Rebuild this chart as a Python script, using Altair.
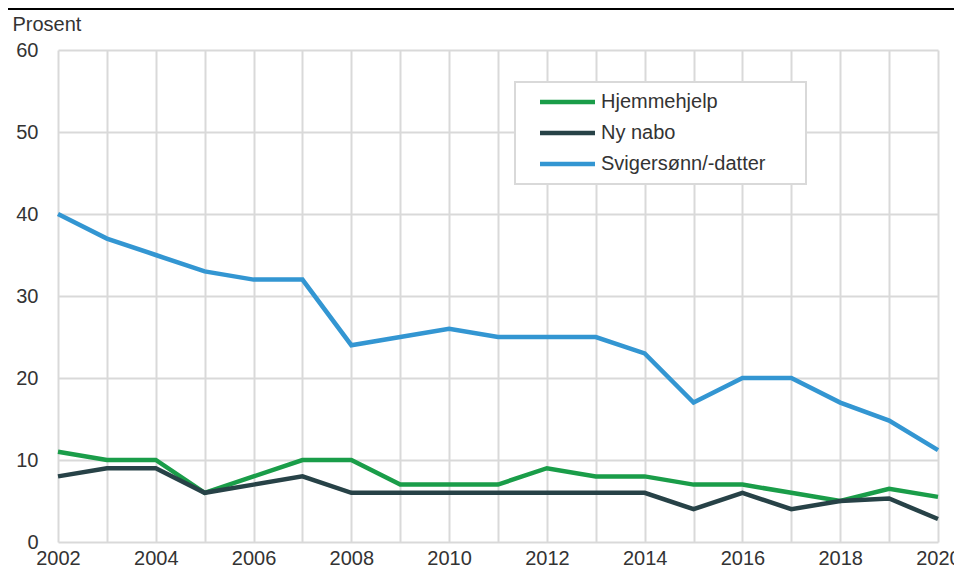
import altair as alt
import pandas as pd

years = list(range(2002, 2021))
series_names = ["Hjemmehjelp", "Ny nabo", "Svigersønn/-datter"]
hjemmehjelp = [11, 10, 10, 6, 8, 10, 10, 7, 7, 7, 9, 8, 8, 7, 7, 6, 5, 6.5, 5.5]
ny_nabo = [8, 9, 9, 6, 7, 8, 6, 6, 6, 6, 6, 6, 6, 4, 6, 4, 5, 5.3, 2.8]
svigerbarn = [40, 37, 35, 33, 32, 32, 24, 25, 26, 25, 25, 25, 23, 17, 20, 20, 17, 14.8, 11.2]
colors = ["#1a9d49", "#274247", "#3396d2"]
y_ticks = [0, 10, 20, 30, 40, 50, 60]

rows = []
for name, vals in zip(series_names, [hjemmehjelp, ny_nabo, svigerbarn]):
    for yr, v in zip(years, vals):
        rows.append({"År": yr, "Prosent": v, "Serie": name})
df = pd.DataFrame(rows)

FONT = "Liberation Sans"
TXT = "#333333"
GRID = "#d9d9d9"

lines = alt.Chart(df).mark_line(strokeWidth=4.5, strokeJoin="miter").encode(
    x=alt.X("År:Q",
            scale=alt.Scale(domain=[2002, 2020], nice=False, zero=False),
            axis=alt.Axis(values=years, format="d", title=None,
                          labelExpr="datum.value % 2 == 0 ? datum.label : ''",
                          labelFontSize=20, labelColor=TXT, labelFont=FONT,
                          labelPadding=6, ticks=False, domain=False,
                          grid=True, gridColor=GRID, gridWidth=2,
                          labelFlush=False, labelOverlap=False)),
    y=alt.Y("Prosent:Q",
            scale=alt.Scale(domain=[0, 60], nice=False),
            axis=alt.Axis(values=y_ticks, title="Prosent", titleAngle=0,
                          titleX=-46, titleY=-20, titleAlign="left",
                          titleBaseline="alphabetic", titleFontSize=20,
                          titleFontWeight="normal", titleColor=TXT, titleFont=FONT,
                          labelFontSize=20, labelColor=TXT, labelFont=FONT,
                          labelPadding=20, ticks=False, domain=False,
                          grid=True, gridColor=GRID, gridWidth=2)),
    color=alt.Color("Serie:N",
                    scale=alt.Scale(domain=series_names, range=colors),
                    sort=series_names,
                    legend=alt.Legend(title=None, orient="none",
                                      legendX=457, legendY=32,
                                      symbolType="M1,0H12", symbolSize=100,
                                      symbolStrokeWidth=4.5,
                                      labelFontSize=20, labelFont=FONT,
                                      labelColor=TXT, labelOffset=56,
                                      labelLimit=400,
                                      labelExpr="datum.label + '\u2800\u2800'",
                                      padding=10, rowPadding=11,
                                      strokeColor=GRID, fillColor="white")),
)

top_line = alt.Chart(pd.DataFrame({"a": [0]})).mark_rule(
    color="black", strokeWidth=2).encode(
    x=alt.value(-50), x2=alt.value(896), y=alt.value(-41))

chart = alt.layer(lines, top_line).properties(
    width=880, height=492,
    autosize=alt.AutoSizeParams(type="none"),
    padding={"left": 50, "top": 42, "right": 16, "bottom": 26},
).configure_view(stroke=None).configure_legend(strokeWidth=2)

chart.save("out.html", embed_options={"renderer": "svg", "actions": False})
